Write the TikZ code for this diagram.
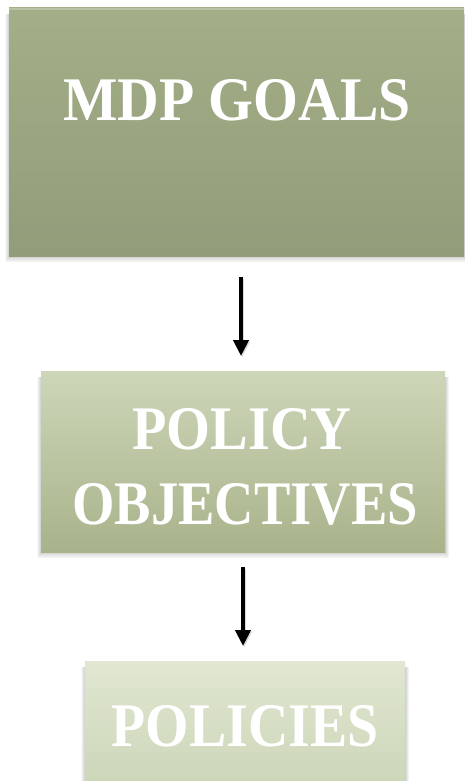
\documentclass[tikz,border=0pt]{standalone}
\usepackage{fontspec}
\setmainfont{Liberation Serif}
\usetikzlibrary{arrows.meta}
\definecolor{gTopA}{HTML}{A3AF88}
\definecolor{gBotA}{HTML}{929C7A}
\definecolor{gTopB}{HTML}{CDD6B8}
\definecolor{gBotB}{HTML}{A8B38B}
\definecolor{gTopC}{HTML}{E1E7D1}
\definecolor{gBotC}{HTML}{CBD5B7}
\tikzset{
  x=1pt, y=1pt,
  boxlabel/.style={text=white, font=\bfseries\fontsize{62}{66}\selectfont, align=center, inner sep=0pt},
  flowarrow/.style={line width=4.6pt, -{Triangle[length=16pt,width=15pt]}, black},
}
% soft drop shadow under a rectangle
\newcommand{\softshadow}[4]{%
  \foreach \k in {1,...,8}{%
    \fill[black, opacity=0.022] ({#1-\k*0.5},{#2-\k*0.8}) rectangle ({#3+\k*0.5},{#4});
  }}
\begin{document}
\begin{tikzpicture}
\useasboundingbox (0,0) rectangle (464,-781);
\fill[white] (0,0) rectangle (464,-781);

% top box
\softshadow{9}{-256}{464}{-14}
\shade[top color=gTopA, bottom color=gBotA] (9,-8) rectangle (464,-256);
\fill[white, opacity=0.25] (9,-8) rectangle (464,-10);
\node[boxlabel, anchor=base] (goals) at (237,-121) {\scalebox{0.93}[1]{MDP GOALS}};

% middle box
\softshadow{41}{-552}{445}{-377}
\shade[top color=gTopB, bottom color=gBotB] (41,-371) rectangle (445,-552);
\node[boxlabel, anchor=base] (polA) at (242,-449) {\scalebox{0.91}[1]{POLICY}};
\node[boxlabel, anchor=base] (objs) at (245,-524) {\scalebox{0.88}[1]{OBJECTIVES}};

% bottom box
\softshadow{85}{-790}{405}{-667}
\shade[top color=gTopC, bottom color=gBotC] (85,-661) rectangle (405,-790);
\node[boxlabel, anchor=base] (pols) at (245,-746) {\scalebox{0.90}[1]{POLICIES}};

% connectors
\coordinate (aS) at (241,-277);
\coordinate (aE) at (241,-356);
\coordinate (bS) at (243,-567);
\coordinate (bE) at (243,-646);
\foreach \s/\e in {aS/aE, bS/bE}{
  \draw[flowarrow, black!30, opacity=0.5] ([xshift=1pt,yshift=-1.5pt]\s) -- ([xshift=1pt,yshift=-1.5pt]\e);
  \draw[flowarrow] (\s) -- (\e);
}
\end{tikzpicture}
\end{document}
